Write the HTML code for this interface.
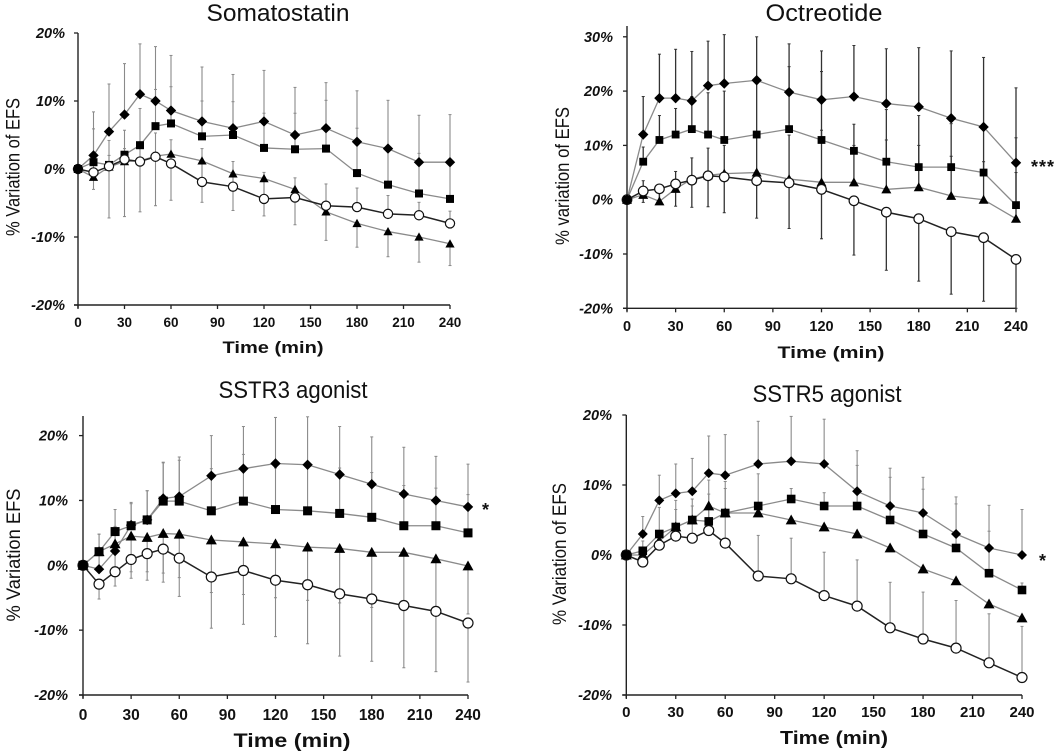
<!DOCTYPE html>
<html lang="en">
<head>
<meta charset="utf-8">
<title>EFS variation panels</title>
<style>
html,body{margin:0;padding:0;background:#fff;width:1059px;height:755px;overflow:hidden}
svg{display:block;filter:blur(.35px)}
text{font-family:"Liberation Sans",sans-serif;fill:#111}
</style>
</head>
<body>
<svg id="figure" xmlns="http://www.w3.org/2000/svg" width="1059" height="755" viewBox="0 0 1059 755"></svg>
<script>
// Shared categories and tick labels
var times = [0,10,20,30,40,50,60,80,100,120,140,160,180,200,220,240];
var xTickLabels = [0,30,60,90,120,150,180,210,240];
var yTicks20 = [-20,-10,0,10,20];
var yTicks30 = [-20,-10,0,10,20,30];

// Somatostatin
var somaDiamond = [0,2,5.5,8,11,10,8.6,7,6,7,5,6,4,3,1,1];
var somaDiamondHi = [0,8.4,12.5,15.5,18.4,18,16.7,15,13.9,14.5,12,12.7,11.5,10.1,7.9,8];
var somaSquare = [0,1,0.6,2.1,3.5,6.3,6.7,4.8,5,3.1,2.9,3,-0.6,-2.3,-3.6,-4.4];
var somaSquareHi = [0,5.9,4.2,5.7,8.9,11.7,12.1,10,9.9,8.2,8.2,10.1,6,3,2.3,1];
var somaTriangle = [0,-1.2,0.3,1.1,1.2,1.9,2.2,1.2,-0.7,-1.4,-3,-6.3,-8,-9.2,-10,-11];
var somaTriangleLo = [0,-3,-7.2,-7,-6.3,-5.4,-4.6,-4.9,-6.1,-6.9,-8.2,-10.5,-11.5,-12.9,-13.7,-14.2];
var somaCircle = [0,-0.5,0.4,1.4,1.1,1.8,0.8,-1.9,-2.6,-4.4,-4.2,-5.4,-5.6,-6.6,-6.8,-8];
var somaCircleHi = [0,1.2,2,3,4,5.3,4.3,3,1.1,-0.5,-1.3,-2.2,-2.8,-3.9,-4.9,-6.2];

// Octreotide
var octDiamond = [0,12,18.7,18.7,18.2,21,21.4,22,19.8,18.4,19,17.7,17.1,15,13.4,6.8];
var octDiamondHi = [0,19,26.8,27.7,27.3,29.2,30.4,30,28.7,27.4,28.4,27.8,28,27.4,26.2,20.6];
var octSquare = [0,7,11,12,13,12,11,12,13,11,9,7,6,6,5,-1];
var octSquareHi = [0,9.7,15.5,16.8,19,19.7,20,22,24.5,23.6,13.9,16.6,15.5,14,13,11.4];
var octTriangle = [0,0.9,-0.3,2,3.8,4.5,4.8,5,3.8,3.2,3.2,1.9,2.3,0.7,0,-3.5];
var octTriangleHi = [0,3.5,1.5,5.2,7.7,9.5,10,12,11.9,12.8,10,11,10,8,7,5];
var octCircle = [0,1.6,2,2.9,3.6,4.4,4.2,3.5,3.1,1.9,-0.2,-2.3,-3.5,-5.9,-7,-11];
var octCircleLo = [0,-0.5,-0.7,-1.2,-1.4,-1.3,-2.4,-3.4,-5.3,-7.2,-10.2,-13,-15,-17.4,-18.7,-20];

// SSTR3 agonist
var s3Diamond = [0,-0.6,2.2,6.2,7,10.3,10.6,13.8,14.9,15.7,15.5,14,12.5,11,10,9];
var s3DiamondHi = [0,4.8,8.6,9.7,11.5,15.9,16.7,20,21.4,22.8,22.9,21.4,19.8,18.2,16.8,15.6];
var s3Square = [0,2.1,5.2,6.1,7,9.9,9.9,8.4,9.9,8.6,8.4,8,7.4,6.1,6.1,5];
var s3SquareHi = [0,4.8,6,9.5,11.5,15.8,16.2,14.9,17.1,15,15,15,14.3,12.3,11.9,10.9];
var s3Triangle = [0,2.1,3.3,4.5,4.3,4.9,4.8,3.9,3.6,3.3,2.8,2.6,2,2,1,-0.1];
var s3TriangleLo = [0,-1,-1,-1,-1,-1.2,-1.9,-4.2,-4.5,-5,-5.4,-5.8,-6.5,-7,-7,-7.5];
var s3Circle = [0,-2.9,-1,0.9,1.8,2.5,1.1,-1.8,-0.8,-2.3,-3,-4.4,-5.2,-6.2,-7.1,-8.9];
var s3CircleLo = [0,-5.2,-3.2,-2,-2.3,-2.6,-4.8,-9.7,-9.1,-11,-12.1,-14,-14.8,-15.8,-16.4,-18];

// SSTR5 agonist
var s5Diamond = [0,3,7.8,8.8,9.1,11.7,11.4,13,13.4,13,9.1,7,6,3,1,0];
var s5DiamondHi = [0,5.5,11.4,13,13.8,17,17.2,19.1,19.8,19.4,14.9,12.4,11.1,8.3,7.1,6.5];
var s5Square = [0,0.6,3,4,5,4.8,6,7,8,7,7,5,3,1,-2.6,-5];
var s5SquareHi = [0,2,6.8,7.8,8,10.7,10.5,11.6,9.5,8.9,12.8,11.1,9.4,7.3,3.4,-4];
var s5Triangle = [0,0,2,4,5,7,6,6,5,4,3,1,-2,-3.7,-7,-9];
var s5Circle = [0,-1,1.4,2.7,2.4,3.5,1.7,-3,-3.4,-5.8,-7.3,-10.4,-12,-13.3,-15.4,-17.5];
var s5CircleHi = [0,1,3,6.5,7,8.7,9.5,2.8,2.4,0.4,-0.7,-3.9,-5.3,-6.5,-8.4,-10.2];

var NS = 'http://www.w3.org/2000/svg';
var root = document.getElementById('figure');

function mk(tag, attrs, parent, txt) {
  var el = document.createElementNS(NS, tag);
  for (var k in attrs) el.setAttribute(k, attrs[k]);
  if (txt !== undefined) el.textContent = txt;
  parent.appendChild(el);
  return el;
}

function marker(kind, x, y, s, parent) {
  var el;
  if (kind === 'diamond') {
    el = mk('polygon', {points: x+','+(y-s.d)+' '+(x+s.d)+','+y+' '+x+','+(y+s.d)+' '+(x-s.d)+','+y, fill:'#000'}, parent);
  } else if (kind === 'square') {
    el = mk('rect', {x:x-s.sq, y:y-s.sq, width:2*s.sq, height:2*s.sq, fill:'#000'}, parent);
  } else if (kind === 'triangle') {
    el = mk('polygon', {points: x+','+(y-s.t)+' '+(x+s.t)+','+(y+s.t*0.8)+' '+(x-s.t)+','+(y+s.t*0.8), fill:'#000'}, parent);
  } else {
    el = mk('circle', {cx:x, cy:y, r:s.c, fill:'#fff', stroke:'#111', 'stroke-width':1.2}, parent);
  }
  return el;
}

function drawPanel(p) {
  var g = mk('g', {}, root);
  
  

  function X(t) { return p.x0 + (t - 0) * (p.x240 - p.x0) / 240; }
  function Y(v) { return p.y0 - v * (p.yNeg20 - p.y0) / 20; }

  var title = mk('text', {x:p.titleX, y:p.titleY, 'text-anchor':'middle', 'font-size':24, textLength:p.titleW, lengthAdjust:'spacingAndGlyphs'}, g, p.title);
  
  

  var yAxis = mk('line', {x1:p.x0, x2:p.x0, y1:p.axisTop, y2:p.yNeg20 + 3, stroke:'#222', 'stroke-width':1.4}, g);
  
  

  var xAxis = mk('line', {x1:p.x0 - 4, x2:p.x240, y1:p.yNeg20, y2:p.yNeg20, stroke:'#222', 'stroke-width':1.4}, g);
  
  

  p.yTicks.forEach(function (v) {
    var tick = mk('line', {x1:p.x0 - 4, x2:p.x0, y1:Y(v), y2:Y(v), stroke:'#222', 'stroke-width':1.3}, g);
    
    
    var lab = mk('text', {x:p.yLabelX, y:Y(v) + 5, 'text-anchor':'end', 'font-size':14.5, 'font-weight':'bold', 'font-style':'italic'}, g, v + '%');
    
    
  });

  xTickLabels.forEach(function (t) {
    var tick = mk('line', {x1:X(t), x2:X(t), y1:p.yNeg20, y2:p.yNeg20 + 4, stroke:'#222', 'stroke-width':1.3}, g);
    
    
    var lab = mk('text', {x:X(t), y:p.xLabelY, 'text-anchor':'middle', 'font-size':p.xFont, 'font-weight':'bold'}, g, t);
    
    
  });

  var xt = mk('text', {x:p.xTitleX, y:p.xTitleY, 'text-anchor':'middle', 'font-size':p.xTitleFont, 'font-weight':'bold', textLength:p.xTitleW, lengthAdjust:'spacingAndGlyphs'}, g, 'Time (min)');
  
  

  var yt = mk('text', {transform:'translate(' + p.yTitleX + ',' + p.yTitleY + ') rotate(-90)', 'text-anchor':'middle', 'font-size':19, textLength:p.yTitleW, lengthAdjust:'spacingAndGlyphs'}, g, p.yTitle);
  
  

  if (p.star) {
    var st = mk('text', {x:p.starX, y:p.starY, 'text-anchor':'middle', 'font-size':18, 'font-weight':'bold', 'letter-spacing':1}, g, p.star);
    
    
  }

  p.series.forEach(function (s) {
    var sg = mk('g', {}, g);
    
    
    [s.hi, s.lo].forEach(function (arr) {
      if (!arr) return;
      arr.forEach(function (e, i) {
        if (i === 0) return;
        var t = times[i], v = s.values[i], bx = X(t);
        var bar = mk('line', {x1:bx, x2:bx, y1:Y(v), y2:Y(e), stroke:p.errColor, 'stroke-width':p.errWidth}, sg);
        
        
        var cap = mk('line', {x1:bx - 1.5, x2:bx + 1.5, y1:Y(e), y2:Y(e), stroke:p.errColor, 'stroke-width':1}, sg);
        
        
      });
    });
  });

  p.series.forEach(function (s) {
    var pts = s.values.map(function (v, i) { return X(times[i]) + ',' + Y(v); }).join(' ');
    var line = mk('polyline', {points:pts, fill:'none', stroke:s.kind === 'circle' ? '#222' : '#8a8a8a', 'stroke-width':s.kind === 'circle' ? 1.5 : 1.3}, g);
    
    
  });

  // Origin points stack with the filled markers on top, as in the source figure.
  p.series.slice().reverse().forEach(function (s) {
    var first = marker(s.kind, X(times[0]), Y(s.values[0]), p.size, g);
    
    
  });

  p.series.forEach(function (s) {
    s.values.forEach(function (v, i) {
      if (i === 0) return;
      var m = marker(s.kind, X(times[i]), Y(v), p.size, g);
      
      
    });
  });
}

drawPanel({
  id:'somatostatin', title:'Somatostatin', titleX:278, titleY:21, titleW:143,
  x0:78, x240:450, y0:169, yNeg20:305, axisTop:33, yTicks:yTicks20, yLabelX:65,
  xLabelY:327, xFont:13.5, xTitleX:273, xTitleY:353, xTitleFont:17, xTitleW:101,
  yTitle:'% Variation of  EFS', yTitleX:19.5, yTitleY:167, yTitleW:138,
  errColor:'#8a8a8a', errWidth:1.1, size:{d:5.2, sq:4, t:4.6, c:4.6},
  series:[
    {kind:'diamond', values:somaDiamond, hi:somaDiamondHi},
    {kind:'square', values:somaSquare, hi:somaSquareHi},
    {kind:'triangle', values:somaTriangle, lo:somaTriangleLo},
    {kind:'circle', values:somaCircle, hi:somaCircleHi}
  ]
});

drawPanel({
  id:'octreotide', title:'Octreotide', titleX:824, titleY:21, titleW:117,
  x0:627, x240:1016, y0:199.7, yNeg20:308.3, axisTop:26, yTicks:yTicks30, yLabelX:613,
  xLabelY:331, xFont:14.5, xTitleX:831, xTitleY:358, xTitleFont:17, xTitleW:107,
  yTitle:'% variation of EFS', yTitleX:569, yTitleY:176, yTitleW:138,
  star:'***', starX:1043, starY:173,
  errColor:'#333', errWidth:1.3, size:{d:5.2, sq:3.9, t:5, c:4.8},
  series:[
    {kind:'diamond', values:octDiamond, hi:octDiamondHi},
    {kind:'square', values:octSquare, hi:octSquareHi},
    {kind:'triangle', values:octTriangle, hi:octTriangleHi},
    {kind:'circle', values:octCircle, lo:octCircleLo}
  ]
});

drawPanel({
  id:'sstr3', title:'SSTR3 agonist', titleX:293, titleY:398, titleW:149,
  x0:83, x240:468, y0:565.3, yNeg20:695, axisTop:416, yTicks:yTicks20, yLabelX:68,
  xLabelY:720, xFont:15.5, xTitleX:292, xTitleY:747, xTitleFont:19, xTitleW:117,
  yTitle:'% Variation EFS', yTitleX:20, yTitleY:555, yTitleW:133,
  star:'*', starX:486, starY:516,
  errColor:'#8a8a8a', errWidth:1.1, size:{d:5.2, sq:4.5, t:5.5, c:5},
  series:[
    {kind:'diamond', values:s3Diamond, hi:s3DiamondHi},
    {kind:'square', values:s3Square, hi:s3SquareHi},
    {kind:'triangle', values:s3Triangle, lo:s3TriangleLo},
    {kind:'circle', values:s3Circle, lo:s3CircleLo}
  ]
});

drawPanel({
  id:'sstr5', title:'SSTR5 agonist', titleX:827, titleY:402, titleW:149,
  x0:626.3, x240:1022, y0:555, yNeg20:695, axisTop:415, yTicks:yTicks20, yLabelX:612,
  xLabelY:717, xFont:15, xTitleX:834, xTitleY:744, xTitleFont:18, xTitleW:108,
  yTitle:'% Variation of EFS', yTitleX:566, yTitleY:554, yTitleW:142,
  star:'*', starX:1043, starY:567,
  errColor:'#8a8a8a', errWidth:1.1, size:{d:5, sq:4.3, t:5.5, c:5},
  series:[
    {kind:'diamond', values:s5Diamond, hi:s5DiamondHi},
    {kind:'square', values:s5Square, hi:s5SquareHi},
    {kind:'triangle', values:s5Triangle},
    {kind:'circle', values:s5Circle, hi:s5CircleHi}
  ]
});
</script>
</body>
</html>
